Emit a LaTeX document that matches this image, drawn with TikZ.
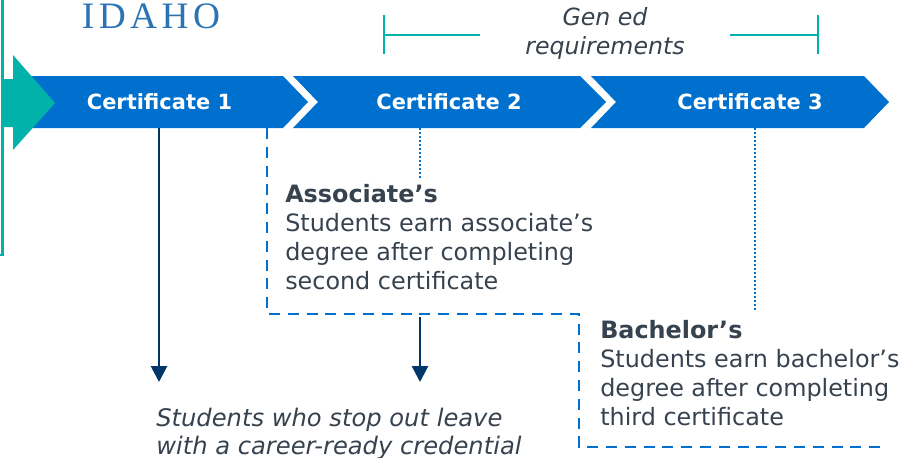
\documentclass[tikz,border=0pt]{standalone}
\usepackage{fontspec}
\setmainfont{DejaVu Sans}
\newfontfamily\idahofont[LetterSpace=12]{Liberation Serif}
\usetikzlibrary{arrows.meta}
\definecolor{cblue}{HTML}{0070CE}
\definecolor{cteal}{HTML}{00B2A9}
\definecolor{cnavy}{HTML}{003768}
\definecolor{ctext}{HTML}{37424F}
\definecolor{clogo}{HTML}{2A74B5}
\tikzset{
  chev/.style={fill=cblue,draw=none},
  certlabel/.style={text=white,font=\fontsize{15.7}{18}\selectfont\bfseries,inner sep=0pt},
  body/.style={text=ctext,font=\fontsize{17.9}{21.75}\selectfont,align=left,inner sep=0pt,anchor=north west},
  note/.style={text=ctext,font=\fontsize{18.15}{21.4}\selectfont\itshape,inner sep=0pt},
  bracket/.style={draw=cteal,line width=2.1pt},
  dashline/.style={draw=cblue,line width=2pt,dash pattern=on 8.2pt off 5.9pt},
  dotline/.style={draw=cblue,line width=2pt,dash pattern=on 1.5pt off 1.5pt},
  down/.style={draw=cnavy,line width=2.1pt,-{Triangle[length=12pt,width=12pt]}},
}
\begin{document}
\begin{tikzpicture}[x=0.75pt,y=-0.75pt]
\useasboundingbox (0,0) rectangle (902,457);
% frame line at the left
\draw[draw=cteal,line width=2.1pt] (2.5,0) -- (2.5,255) -- (0,255);
% chevrons
\fill[chev] (20,76) -- (283,76) -- (308,102) -- (283,128) -- (20,128) -- cycle;
\fill[chev] (293,76) -- (580,76) -- (606,102) -- (580,128) -- (293,128) -- (318,102) -- cycle;
\fill[chev] (591,76) -- (864,76) -- (889,102) -- (864,128) -- (591,128) -- (616,102) -- cycle;
% teal arrow
\fill[cteal] (3,79) -- (13,79) -- (13,55) -- (55,103) -- (13,150) -- (13,127) -- (3,127) -- cycle;
% labels
\node[certlabel] (c1) at (159.5,102) {Certificate 1};
\node[certlabel] (c2) at (449,102) {Certificate 2};
\node[certlabel] (c3) at (750,102) {Certificate 3};
\node[text=clogo,inner sep=0pt,font=\fontsize{28}{28}\selectfont\idahofont] (logo) at (151,16) {IDAHO};
\node[text=ctext,font=\fontsize{17.75}{21.75}\selectfont\itshape,align=center,inner sep=0pt] (gened) at (605,33.5) {Gen ed\\requirements};
% gen ed brackets
\coordinate (bl) at (384,35);
\coordinate (blt) at (384,15);
\coordinate (blb) at (384,54);
\coordinate (ble) at (480,35);
\coordinate (br) at (818,35);
\coordinate (brt) at (818,15);
\coordinate (brb) at (818,54);
\coordinate (bre) at (730,35);
\draw[bracket] (blt) -- (blb);
\draw[bracket] (bl) -- (ble);
\draw[bracket] (brt) -- (brb);
\draw[bracket] (br) -- (bre);
% text blocks
\node[body] (assoc) at (285,184) {\textbf{Associate’s}\\Students earn associate’s\\degree after completing\\second certificate};
\node[body] (bach) at (600,320) {\textbf{Bachelor’s}\\Students earn bachelor’s\\degree after completing\\third certificate};
\node[note,anchor=base west] (stop1) at (156,426) {Students who stop out leave};
\node[note,anchor=base west] (stop2) at (156,454) {with a career-ready credential};
% connectors
\coordinate (d0) at (267,128);
\coordinate (d1) at (267,314);
\coordinate (d2) at (579,314);
\coordinate (d3) at (579,447);
\coordinate (d4) at (880,447);
\draw[dashline] (d0) -- (d1) -- (d2) -- (d3) -- (d4);
\coordinate (o1) at (420,128);
\coordinate (o2) at (420,180);
\coordinate (o3) at (755,128);
\coordinate (o4) at (755,310);
\draw[dotline] (o1) -- (o2);
\draw[dotline] (o3) -- (o4);
\coordinate (a1s) at (159,128);
\coordinate (a1e) at (159,382);
\coordinate (a2s) at (420,317);
\coordinate (a2e) at (420,382);
\draw[down] (a1s) -- (a1e);
\draw[down] (a2s) -- (a2e);
\end{tikzpicture}
\end{document}
